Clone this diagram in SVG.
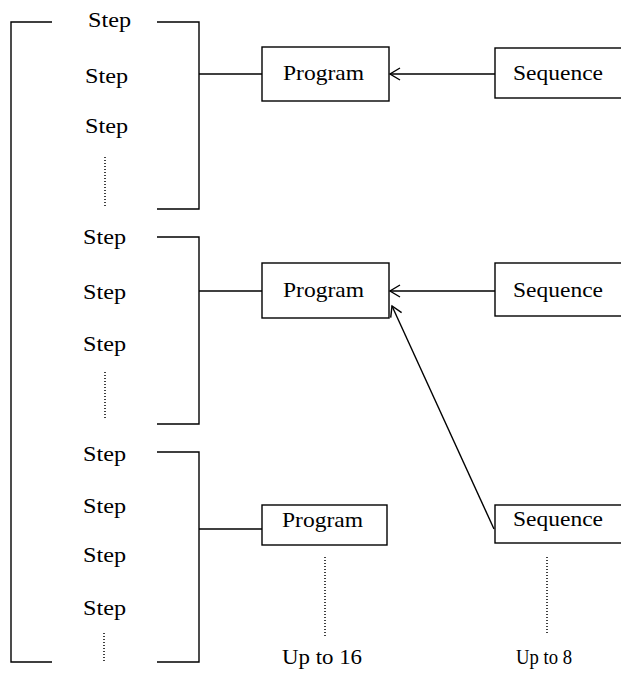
<svg xmlns="http://www.w3.org/2000/svg" width="621" height="673" viewBox="0 0 621 673">
<style>
  .ln { fill: none; stroke: #000; stroke-width: 1.4; }
  .bx { fill: #fff; stroke: #000; stroke-width: 1.4; }
  .dot { fill: none; stroke: #000; stroke-width: 1.5; stroke-dasharray: 1 2; }
  text { font-family: "Liberation Serif", "Times New Roman", serif; font-size: 21px; fill: #000; }
</style>
<defs>
  <marker id="arr" markerWidth="14" markerHeight="14" refX="12" refY="7" orient="auto" markerUnits="userSpaceOnUse">
    <path d="M2,1 L12,7 L2,13" fill="none" stroke="#000" stroke-width="1.4"/>
  </marker>
</defs>

<g id="outer-bracket">
  <path class="ln" d="M52,22 H11 V662 H52" stroke-width="1.6"/>
</g>

<g id="steps-1">
  <text x="88" y="27" textLength="43" lengthAdjust="spacingAndGlyphs">Step</text>
  <text x="85" y="83" textLength="43" lengthAdjust="spacingAndGlyphs">Step</text>
  <text x="85" y="133" textLength="43" lengthAdjust="spacingAndGlyphs">Step</text>
  <line class="dot" x1="105" y1="157" x2="105" y2="208"/>
  <path class="ln" d="M157,22 H199 V209 H157" stroke-width="1.6"/>
</g>

<g id="steps-2">
  <text x="83" y="244" textLength="43" lengthAdjust="spacingAndGlyphs">Step</text>
  <text x="83" y="299" textLength="43" lengthAdjust="spacingAndGlyphs">Step</text>
  <text x="83" y="351" textLength="43" lengthAdjust="spacingAndGlyphs">Step</text>
  <line class="dot" x1="105" y1="372" x2="105" y2="420"/>
  <path class="ln" d="M157,237 H199 V424 H157" stroke-width="1.6"/>
</g>

<g id="steps-3">
  <text x="83" y="461" textLength="43" lengthAdjust="spacingAndGlyphs">Step</text>
  <text x="83" y="513" textLength="43" lengthAdjust="spacingAndGlyphs">Step</text>
  <text x="83" y="562" textLength="43" lengthAdjust="spacingAndGlyphs">Step</text>
  <text x="83" y="615" textLength="43" lengthAdjust="spacingAndGlyphs">Step</text>
  <line class="dot" x1="104" y1="633" x2="104" y2="661"/>
  <path class="ln" d="M157,452 H199 V662 H157" stroke-width="1.6"/>
</g>

<g id="program-1">
  <rect class="bx" x="262" y="47" width="127" height="54"/>
  <text x="283" y="80" textLength="81" lengthAdjust="spacingAndGlyphs">Program</text>
</g>
<g id="program-2">
  <rect class="bx" x="262" y="263" width="127" height="55"/>
  <text x="283" y="297" textLength="81" lengthAdjust="spacingAndGlyphs">Program</text>
</g>
<g id="program-3">
  <rect class="bx" x="262" y="505" width="125" height="40"/>
  <text x="282" y="527" textLength="81" lengthAdjust="spacingAndGlyphs">Program</text>
</g>

<g id="sequence-1">
  <rect class="bx" x="495" y="48" width="140" height="50"/>
  <text x="513" y="80" textLength="90" lengthAdjust="spacingAndGlyphs">Sequence</text>
</g>
<g id="sequence-2">
  <rect class="bx" x="495" y="263" width="140" height="53"/>
  <text x="513" y="297" textLength="90" lengthAdjust="spacingAndGlyphs">Sequence</text>
</g>
<g id="sequence-3">
  <rect class="bx" x="495" y="505" width="140" height="38"/>
  <text x="513" y="526" textLength="90" lengthAdjust="spacingAndGlyphs">Sequence</text>
</g>

<g id="label-16">
  <line class="dot" x1="325" y1="557" x2="325" y2="637"/>
  <text x="282" y="664" textLength="80" lengthAdjust="spacingAndGlyphs">Up to 16</text>
</g>
<g id="label-8">
  <line class="dot" x1="547" y1="557" x2="547" y2="635"/>
  <text x="516" y="664" textLength="56" lengthAdjust="spacingAndGlyphs">Up to 8</text>
</g>

<g id="connectors">
  <line class="ln" x1="199" y1="74" x2="262" y2="74"/>
  <line class="ln" x1="199" y1="291" x2="262" y2="291"/>
  <line class="ln" x1="199" y1="529" x2="262" y2="529" stroke-width="1.8"/>
  <line class="ln" x1="495" y1="74" x2="390" y2="74" marker-end="url(#arr)"/>
  <line class="ln" x1="495" y1="291" x2="390" y2="291" marker-end="url(#arr)"/>
  <line class="ln" x1="494" y1="529" x2="392" y2="306" marker-end="url(#arr)"/>
</g>
</svg>
